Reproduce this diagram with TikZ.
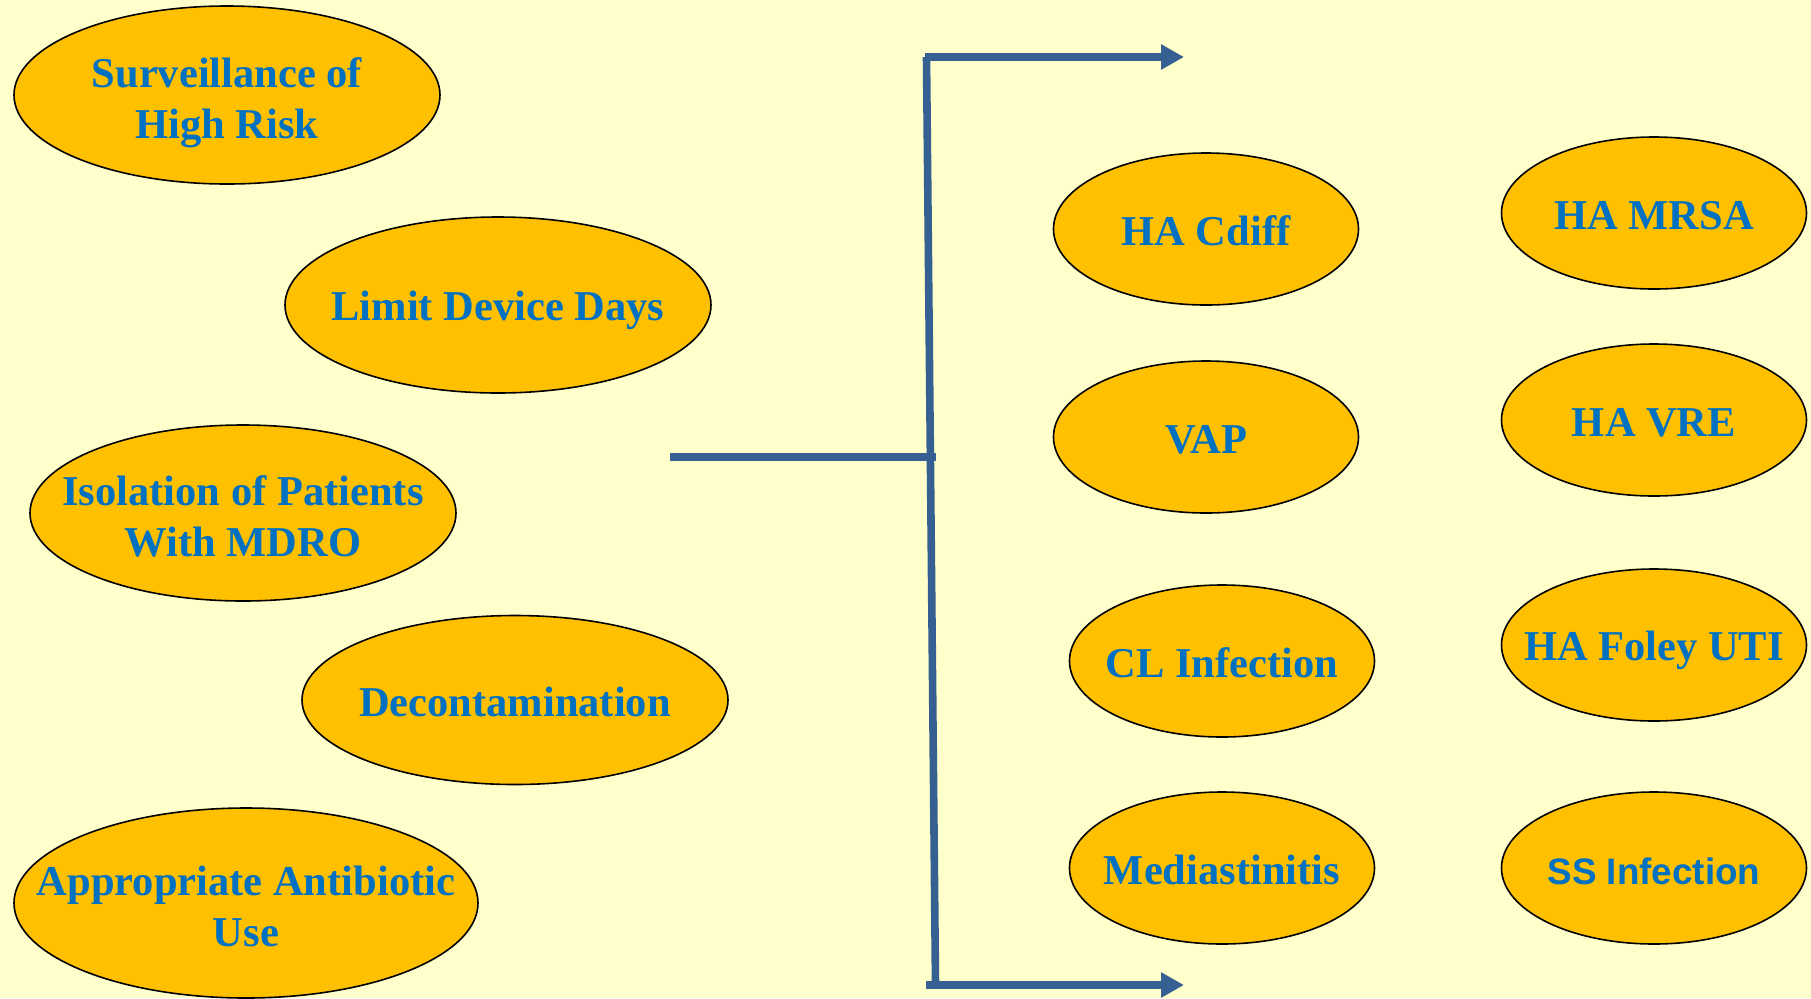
\documentclass[tikz,border=0pt]{standalone}
\usepackage{fontspec}
\setmainfont{Liberation Serif}
\newfontfamily\arialfont{Liberation Sans}
\usetikzlibrary{shapes.geometric,arrows.meta}
\definecolor{paper}{RGB}{255,255,204}
\definecolor{gold}{RGB}{255,192,0}
\definecolor{ink}{RGB}{0,112,192}
\definecolor{steel}{RGB}{55,96,146}
% labels are set in zero-width boxes so the ellipses keep their own size
\newcommand{\oneline}[1]{\makebox[0pt]{\rule[-3.6pt]{0pt}{23.6pt}#1}}
\newcommand{\twolines}[2]{\makebox[0pt]{\rule{0pt}{22.5pt}#1}\\\makebox[0pt]{\rule[-5pt]{0pt}{5pt}#2}}
\tikzset{
  oval/.style={ellipse, draw=black, line width=0.8pt, fill=gold, inner sep=0pt,
    text=ink, align=center, font=\bfseries\fontsize{21.25}{25.5}\selectfont},
  big/.style={oval, minimum width=213pt, minimum height=89pt},
  small/.style={oval, minimum width=152.5pt, minimum height=76pt},
  bar/.style={draw=steel, line width=3.8pt},
  arr/.style={bar, -{Triangle[length=11.5pt,width=12pt]}}
}
\begin{document}
\begin{tikzpicture}[x=0.5pt,y=-0.5pt]
\fill[paper] (0,0) rectangle (1811,998);
\useasboundingbox (0,0) rectangle (1811,998);

% measures on the left
\node[big] (surv) at (227,95) {\twolines{Surveillance of}{High Risk}};
\node[big, minimum height=88pt] (limit) at (498,305) {\oneline{Limit Device Days}};
\node[big, minimum height=88pt] (iso) at (243,513) {\twolines{Isolation of Patients}{With MDRO}};
\node[big, minimum height=84.5pt] (decon) at (515,700) {\oneline{Decontamination}};
\node[big, minimum width=232pt, minimum height=95pt] (abx) at (246,903) {\twolines{Appropriate Antibiotic}{Use}};

% outcomes on the right
\node[small] (cdiff) at (1206,229) {\oneline{HA Cdiff}};
\node[small] (vap) at (1206,437) {\oneline{VAP}};
\node[small] (cl) at (1222,661) {\oneline{CL Infection}};
\node[small] (med) at (1222,868) {\oneline{Mediastinitis}};
\node[small] (mrsa) at (1654,213) {\oneline{HA MRSA}};
\node[small] (vre) at (1654,420) {\oneline{HA VRE}};
\node[small] (foley) at (1654,645) {\oneline{HA Foley UTI}};
\node[small, font=\arialfont\bfseries\fontsize{18.4}{22}\selectfont] (ss) at (1654,868) {\oneline{SS Infection}};

% bracket joining the two groups
\coordinate (feed) at (670,457);
\coordinate (join) at (936,457);
\coordinate (top) at (926.5,57);
\coordinate (bottom) at (935.5,985);
\coordinate (topstart) at (925,57);
\coordinate (botstart) at (926,985);
\coordinate (toptip) at (1184,57);
\coordinate (bottip) at (1184,985);
\draw[bar] (feed) -- (join);
\draw[bar] (top) -- (bottom);
\draw[arr] (topstart) -- (toptip);
\draw[arr] (botstart) -- (bottip);
\end{tikzpicture}
\end{document}
